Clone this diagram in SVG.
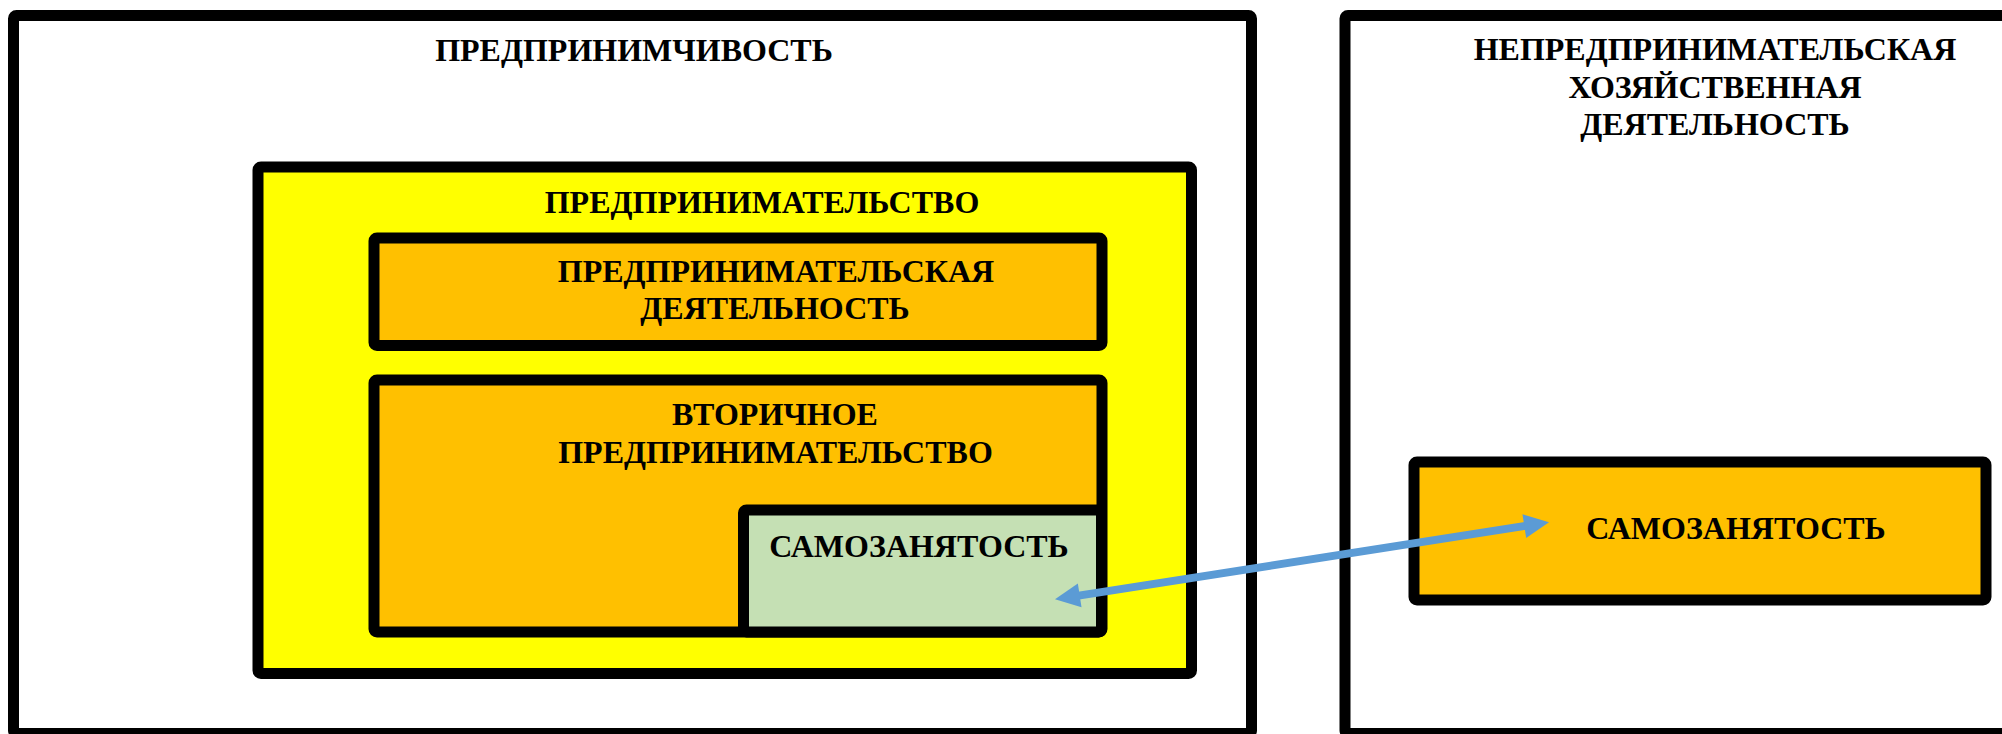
<svg xmlns="http://www.w3.org/2000/svg" width="2002" height="734" viewBox="0 0 2002 734">
  <style>
    .box { stroke: #000000; stroke-width: 11; stroke-linejoin: round; }
    .white { fill: #FFFFFF; }
    .yellow { fill: #FFFF00; }
    .orange { fill: #FFC000; }
    .green { fill: #C5E0B4; }
    .lbl { font-family: "Liberation Serif", "Times New Roman", serif; font-weight: bold; font-size: 32px; fill: #000000; text-anchor: middle; }
    .conn { stroke: #5B9BD5; stroke-width: 8; fill: none; }
  </style>
  <defs>
    <marker id="ah" viewBox="-1 -13 27 26" refX="1" refY="0" markerWidth="27" markerHeight="26" markerUnits="userSpaceOnUse" orient="auto-start-reverse">
      <path d="M0,-12 L25,0 L0,12 Z" fill="#5B9BD5"/>
    </marker>
  </defs>
  <rect x="0" y="0" width="2002" height="734" fill="#FFFFFF"/>

  <g id="predprinimchivost">
    <rect class="box white" x="13.5" y="15.5" width="1238" height="718" rx="3"/>
    <text class="lbl" x="634" y="61">ПРЕДПРИНИМЧИВОСТЬ</text>
  </g>

  <g id="nepredprinimatelskaya">
    <rect class="box white" x="1345" y="15.5" width="720" height="718" rx="3"/>
    <text class="lbl" x="1715" y="60">НЕПРЕДПРИНИМАТЕЛЬСКАЯ</text>
    <text class="lbl" x="1715" y="97.5">ХОЗЯЙСТВЕННАЯ</text>
    <text class="lbl" x="1715" y="135">ДЕЯТЕЛЬНОСТЬ</text>
  </g>

  <g id="predprinimatelstvo">
    <rect class="box yellow" x="258" y="167" width="933.5" height="506.5" rx="3"/>
    <text class="lbl" x="762" y="212.5">ПРЕДПРИНИМАТЕЛЬСТВО</text>
  </g>

  <g id="predprinimatelskaya-deyatelnost">
    <rect class="box orange" x="374" y="238" width="728" height="107.5" rx="3"/>
    <text class="lbl" x="776" y="282">ПРЕДПРИНИМАТЕЛЬСКАЯ</text>
    <text class="lbl" x="775" y="319">ДЕЯТЕЛЬНОСТЬ</text>
  </g>

  <g id="vtorichnoe">
    <rect class="box orange" x="374" y="380" width="728" height="252" rx="3"/>
    <text class="lbl" x="775" y="425">ВТОРИЧНОЕ</text>
    <text class="lbl" x="775.5" y="462.5">ПРЕДПРИНИМАТЕЛЬСТВО</text>
  </g>

  <g id="samozanyatost-inner">
    <rect class="box green" x="743.5" y="510" width="358" height="122" rx="3"/>
    <text class="lbl" x="919" y="557">САМОЗАНЯТОСТЬ</text>
  </g>

  <g id="samozanyatost-outer">
    <rect class="box orange" x="1414" y="462" width="572" height="138" rx="3"/>
    <text class="lbl" x="1736" y="539">САМОЗАНЯТОСТЬ</text>
  </g>

  <g id="connectors">
    <line class="conn" x1="1078.7" y1="595.6" x2="1525.3" y2="525.9" marker-start="url(#ah)" marker-end="url(#ah)"/>
  </g>
</svg>
